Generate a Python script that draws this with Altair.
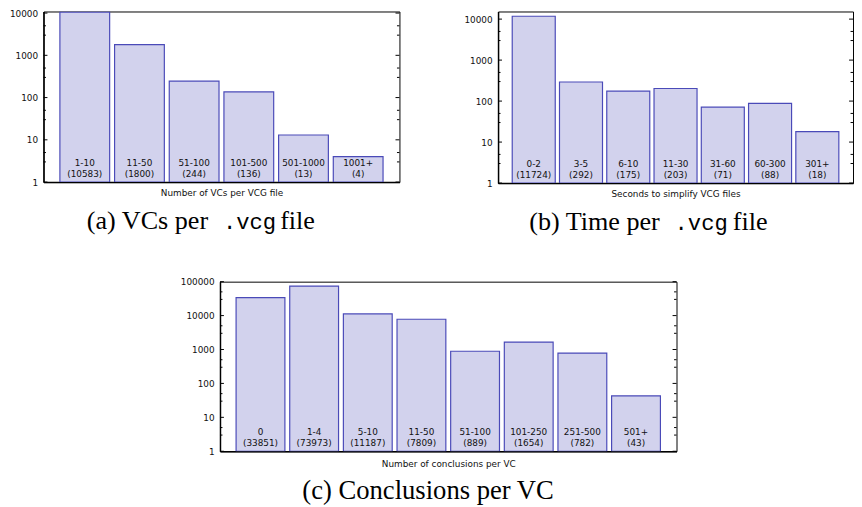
import altair as alt
import pandas as pd

# ---- data ----
a_cats = ["1-10", "11-50", "51-100", "101-500", "501-1000", "1001+"]
a_vals = [10583, 1800, 244, 136, 13, 4]
b_cats = ["0-2", "3-5", "6-10", "11-30", "31-60", "60-300", "301+"]
b_vals = [11724, 292, 175, 203, 71, 88, 18]
c_cats = ["0", "1-4", "5-10", "11-50", "51-100", "101-250", "251-500", "501+"]
c_vals = [33851, 73973, 11187, 7809, 889, 1654, 782, 43]

a_ticks = [1, 10, 100, 1000, 10000]
b_ticks = [1, 10, 100, 1000, 10000]
c_ticks = [1, 10, 100, 1000, 10000, 100000]

a_title = "Number of VCs per VCG file"
b_title = "Seconds to simplify VCG files"
c_title = "Number of conclusions per VC"

FILL = "#d2d2ed"
STROKE = "#4a4ab8"
SANS = "DejaVu Sans"
SERIF = "Liberation Serif"
MONO = "Liberation Mono"


def panel(cats, vals, ticks, title, width, height, ymax, title_pad, caption):
    df = pd.DataFrame({
        "cat": cats,
        "val": vals,
        "base": [1] * len(cats),
        "lab": [f"{c}\n({v})" for c, v in zip(cats, vals)],
    })
    xs = alt.Scale(paddingInner=0.09, paddingOuter=0.3)
    ys = alt.Scale(type="log", domain=[1, ymax], nice=False)
    xaxis = alt.Axis(title=title, labels=False, ticks=False, domain=True,
                     domainColor="black", domainWidth=1.5,
                     titlePadding=title_pad, titleFont=SANS,
                     titleFontSize=9, titleFontWeight="normal",
                     titleColor="#111")
    yaxis = alt.Axis(values=ticks, format="d", tickSize=0, grid=False,
                     labelPadding=6, domain=True, domainColor="black",
                     domainWidth=1.5, title=None, labelFont=SANS,
                     labelFontSize=9, labelColor="#111")
    x = alt.X("cat:N", sort=cats, scale=xs, axis=xaxis)
    bars = alt.Chart(df).mark_bar(fill=FILL, stroke=STROKE, strokeWidth=1.2,
                                  clip=True).encode(
        x=x,
        y=alt.Y("val:Q", scale=ys, axis=yaxis),
        y2="base:Q",
    )
    labels = alt.Chart(df).mark_text(font=SANS, fontSize=9, lineHeight=11,
                                     lineBreak="\n", baseline="middle",
                                     color="#111").encode(
        x=x,
        y=alt.value(height - 19),
        text="lab:N",
    )
    # inward tick marks (major + minor), on both sides
    minors = [m * t for t in ticks for m in (3, 5) if m * t <= ymax]
    tdf = pd.DataFrame({"val": ticks})
    mdf = pd.DataFrame({"val": minors})
    tick_layers = []
    for d, ln in ((tdf, 4), (mdf, 2.5)):
        for x0, x1 in ((0, ln), (width - ln, width)):
            tick_layers.append(
                alt.Chart(d).mark_rule(color="black", strokeWidth=1).encode(
                    y=alt.Y("val:Q", scale=ys, axis=yaxis),
                    x=alt.value(x0), x2=alt.value(x1),
                )
            )
    cap_layers = []
    for txt, font, size, xpos, align in caption:
        cap_layers.append(
            alt.Chart(pd.DataFrame({"t": [txt]})).mark_text(
                font=font, fontSize=size, align=align, baseline="alphabetic",
                color="black").encode(
                text="t:N", x=alt.value(xpos), y=alt.value(height + 48))
        )
    return alt.layer(bars, labels, *tick_layers, *cap_layers).properties(
        width=width, height=height)


a = panel(a_cats, a_vals, a_ticks, a_title, 361, 173, 10900, 7,
          [("(a) VCs per", SERIF, 26.5, 167, "right"),
           (".vcg", MONO, 22.5, 182, "left"),
           ("file", SERIF, 26.5, 240, "left")])
b = panel(b_cats, b_vals, b_ticks, b_title, 360, 174, 15340, 7,
          [("(b) Time per", SERIF, 26.5, 164, "right"),
           (".vcg", MONO, 22.5, 179, "left"),
           ("file", SERIF, 26.5, 238, "left")])
c = panel(c_cats, c_vals, c_ticks, c_title, 463, 172, 100000, 8,
          [("(c) Conclusions per VC", SERIF, 27, 211, "center")])

chart = alt.vconcat(
    alt.hconcat(a, b, spacing=63),
    c,
    spacing=41,
    center=True,
).configure_view(stroke="black", strokeWidth=1).properties(
    padding={"left": 0, "top": -3, "right": 0, "bottom": 0},
    background="white",
)

chart.save("out.html", embed_options={"renderer": "svg", "actions": False})
